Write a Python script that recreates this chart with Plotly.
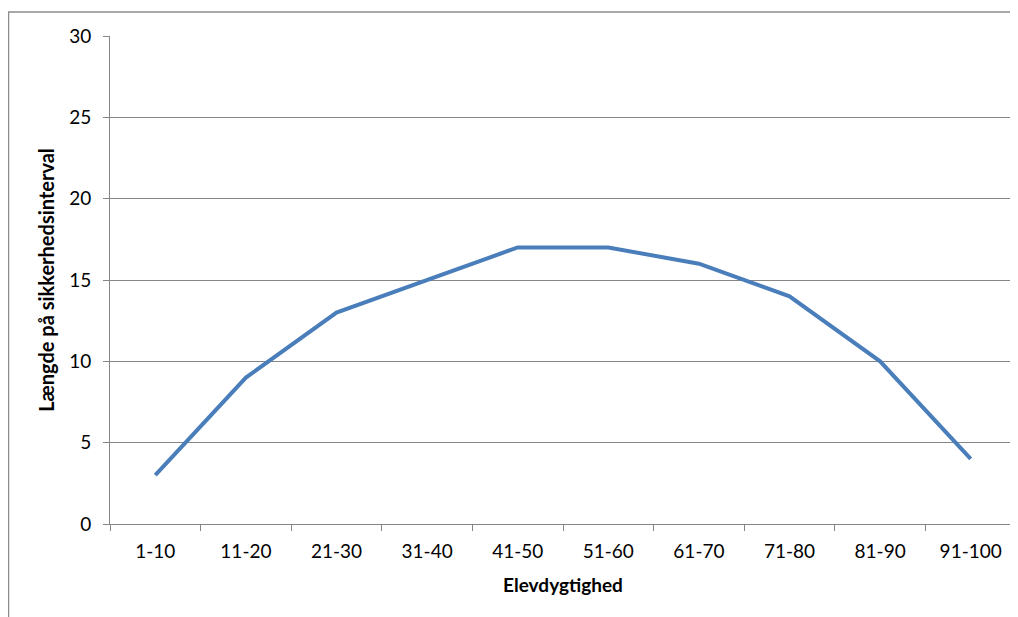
import plotly.graph_objects as go

categories = ["1-10", "11-20", "21-30", "31-40", "41-50", "51-60", "61-70", "71-80", "81-90", "91-100"]
values = [3, 9, 13, 15, 17, 17, 16, 14, 10, 4]
y_ticks = [0, 5, 10, 15, 20, 25, 30]

# page body has an 8px margin, so figure coordinates are offset by 8px
W, H = 1010, 609
ml, mr, mt, mb = 102, 2, 28, 93
pw, ph = W - ml - mr, H - mt - mb

fig = go.Figure()
fig.add_trace(go.Scatter(
    x=categories, y=values, mode="lines",
    line=dict(color="#4a7ebb", width=4),
    hoverinfo="skip", showlegend=False,
))

font_family = "Lato, 'Open Sans', sans-serif"
fig.update_layout(
    width=W, height=H,
    margin=dict(l=ml, r=mr, t=mt, b=mb),
    paper_bgcolor="white", plot_bgcolor="white",
    font=dict(family=font_family, size=19, color="black"),
    xaxis=dict(
        type="category", range=[-0.5, 9.5],
        showline=True, linecolor="#868686", linewidth=1,
        ticks="outside", tickson="boundaries", ticklen=6, tickcolor="#868686",
        showgrid=False, zeroline=False,
        tickfont=dict(size=19), ticklabelstandoff=10,
        title=dict(text="<b>Elevdygtighed</b>", font=dict(size=19), standoff=17),
    ),
    yaxis=dict(
        range=[0, 30], tickvals=y_ticks,
        showline=True, linecolor="#868686", linewidth=1,
        ticks="outside", ticklen=6, tickcolor="#868686",
        showgrid=True, gridcolor="#868686", gridwidth=1,
        zeroline=False,
        tickfont=dict(size=19), ticklabelstandoff=8,
        title=dict(text="<b>Længde på sikkerhedsinterval</b>", font=dict(size=20), standoff=9),
    ),
    shapes=[dict(
        type="rect", xref="paper", yref="paper",
        x0=(0.5 - ml) / pw, x1=1.2,
        y0=-0.3, y1=1 + (mt - 4) / ph,
        line=dict(color="#8c8c8c", width=1.5), fillcolor="rgba(0,0,0,0)",
        layer="below",
    )],
)

fig.write_html("out.html")
